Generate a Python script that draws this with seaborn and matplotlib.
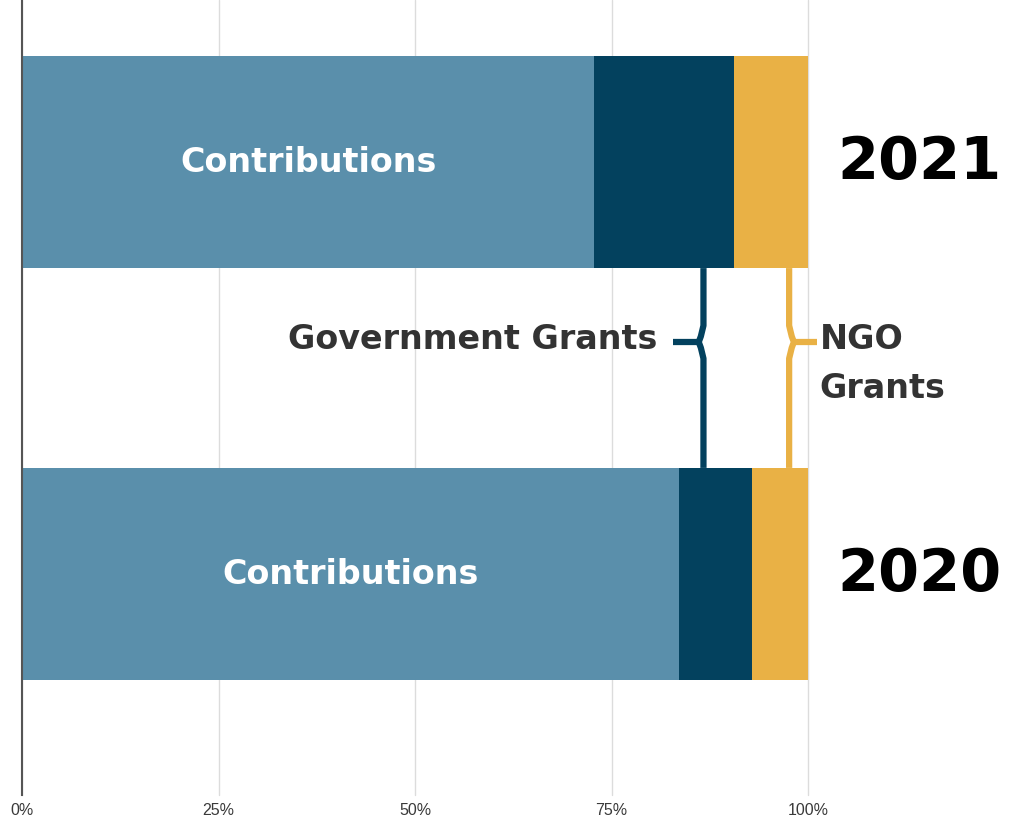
import matplotlib
matplotlib.use("Agg")
import matplotlib.pyplot as plt
import seaborn as sns
import pandas as pd
import numpy as np

# ---- data ----
years = ["2021", "2020"]
segments = ["Contributions", "Government Grants", "NGO Grants"]
contributions = [72.8, 83.6]
government = [17.8, 9.3]
ngo = [9.4, 7.1]
x_ticks = [0, 25, 50, 75, 100]
x_tick_labels = ["0%", "25%", "50%", "75%", "100%"]

colors = {"Contributions": "#5A8FAB", "Government Grants": "#03415E", "NGO Grants": "#E9B145"}

sns.set_theme(style="white")
plt.rcParams["font.family"] = ["DejaVu Sans"]

W, H = 1028, 819
fig = plt.figure(figsize=(W / 100, H / 100), dpi=100)
ax = fig.add_axes([22 / W, 1 - 795 / H, (808 - 22) / W, 795 / H])

df = pd.DataFrame({"year": years, "c": contributions, "g": government, "n": ngo})
df["cum_c"] = df["c"]
df["cum_g"] = df["c"] + df["g"]
df["cum_n"] = df["c"] + df["g"] + df["n"]

bar_w = 0.515
for col, seg in [("cum_n", "NGO Grants"), ("cum_g", "Government Grants"), ("cum_c", "Contributions")]:
    sns.barplot(data=df, x=col, y="year", order=years, orient="h", color=colors[seg],
                width=bar_w, saturation=1, ax=ax, linewidth=0)

ax.set_xlim(0, 100)
ax.set_ylim(1 + (795 - 574) / 412, -162 / 412)
ax.set_xlabel("")
ax.set_ylabel("")
ax.set_yticks([])
ax.set_xticks(x_ticks)
ax.set_xticklabels(x_tick_labels, fontsize=11.5, color="#3a3a3a", family=["Liberation Sans"])
ax.tick_params(axis="x", length=0, pad=6)
ax.grid(axis="x", color="#dcdcdc", linewidth=1)
for gl in ax.get_xgridlines():
    gl.set_clip_on(False)
ax.set_axisbelow(True)
for s in ["top", "right", "bottom"]:
    ax.spines[s].set_visible(False)
ax.spines["left"].set_color("#555555")
ax.spines["left"].set_linewidth(1.5)
ax.spines["left"].set_zorder(5)

label_kw = dict(fontsize=24, fontweight="bold", family=["DejaVu Sans"])

# Contributions labels
for i, v in enumerate(contributions):
    ax.text(v / 2, i, "Contributions", ha="center", va="center", color="white", **label_kw)

# Year labels
for i, y in enumerate(years):
    ax.text(103.8, i, y, ha="left", va="center", color="black", fontsize=42.5,
            fontweight="bold", family=["DejaVu Sans"], clip_on=False)

# Brackets (brace style)
top = bar_w / 2
bot = 1 - bar_w / 2
nub_y = 0.437
gx = 86.7
nx = 97.6
dy = 0.04
def brace(x, direction, stub_end, color):
    ys = [top, nub_y - dy, nub_y - dy * 0.35, nub_y, nub_y + dy * 0.35, nub_y + dy, bot]
    off = 0.6 * direction
    xs = [x, x, x + off * 0.55, x + off, x + off * 0.55, x, x]
    ax.plot(xs, ys, color=color, lw=4.5, solid_capstyle="butt", solid_joinstyle="round",
            zorder=4, clip_on=False)
    ax.plot([x + off, stub_end], [nub_y, nub_y], color=color, lw=4.5,
            solid_capstyle="butt", zorder=4, clip_on=False)

brace(gx, -1, 82.8, colors["Government Grants"])
brace(nx, 1, 101.2, colors["NGO Grants"])

ax.text(80.8, 0.432, "Government Grants", ha="right", va="center", color="#333333", **label_kw)
ax.text(101.5, 0.432, "NGO", ha="left", va="center", color="#333333", clip_on=False, **label_kw)
ax.text(101.5, 0.549, "Grants", ha="left", va="center", color="#333333", clip_on=False, **label_kw)

fig.savefig("out.png", dpi=100, facecolor="white")
